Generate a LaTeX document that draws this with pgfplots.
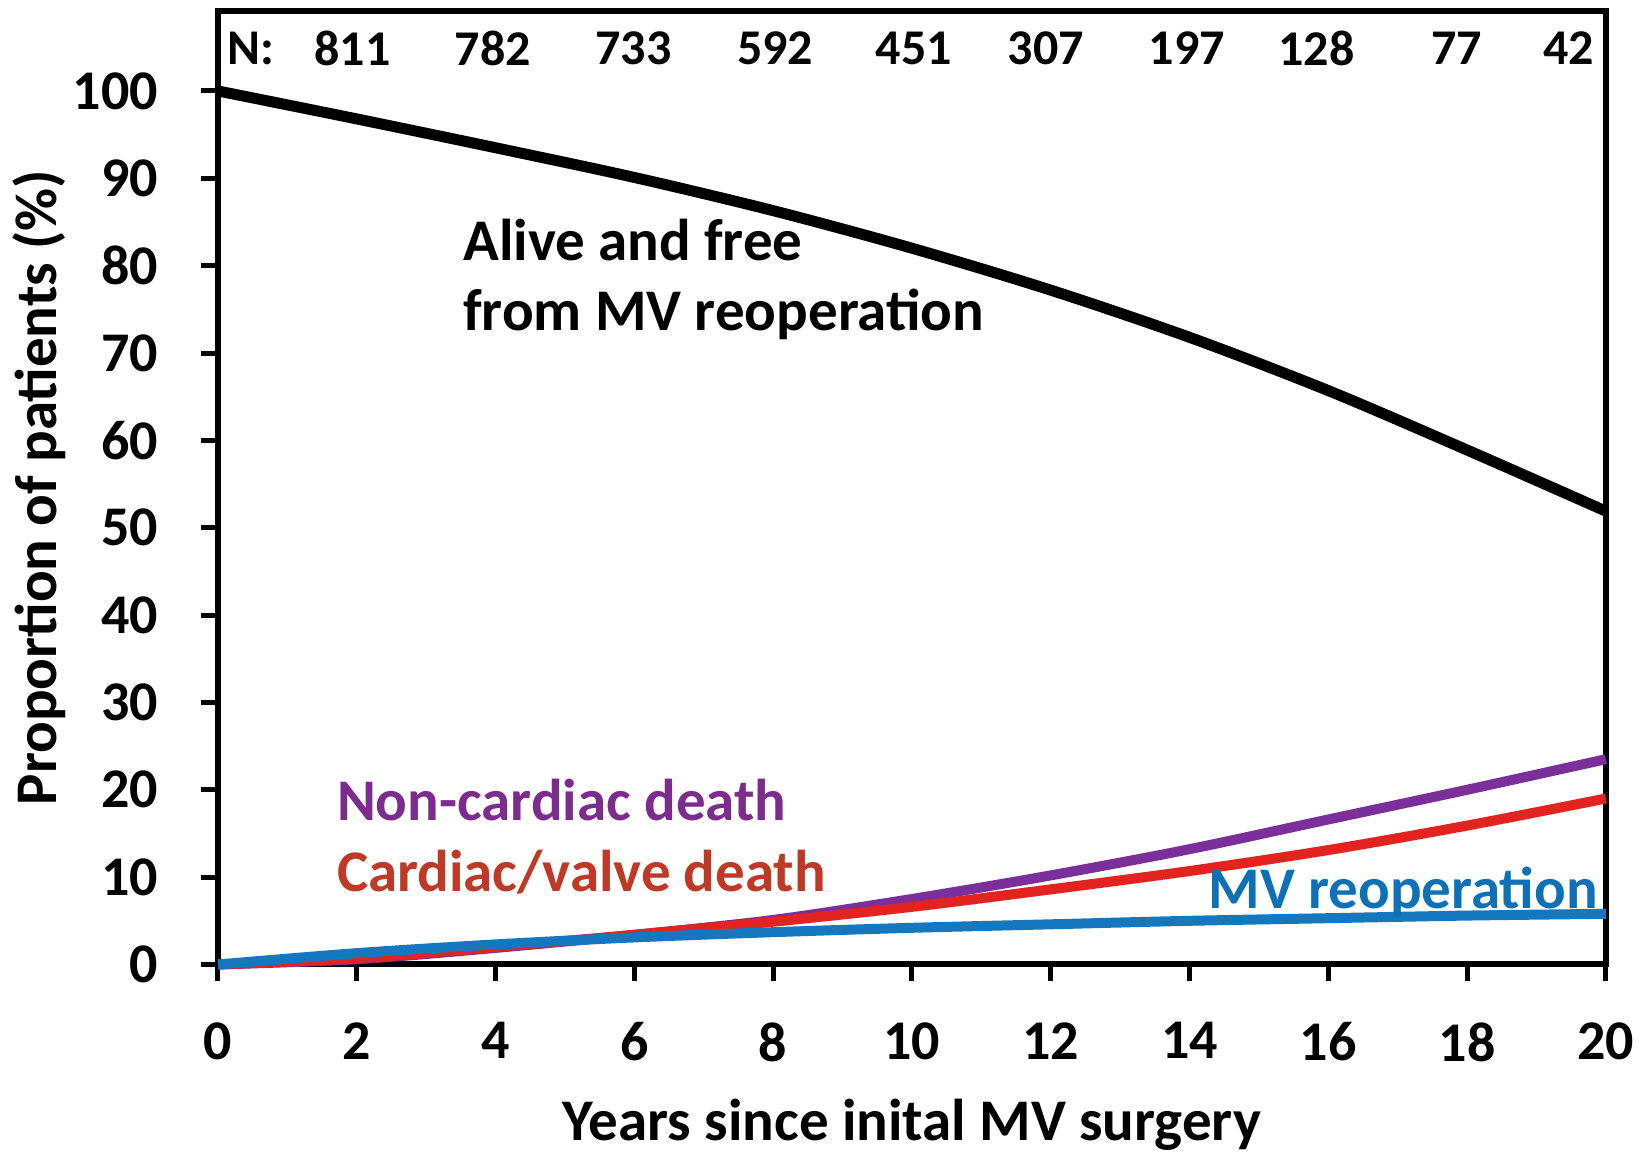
\documentclass[border=0pt]{standalone}
\usepackage{pgfplots}
\pgfplotsset{compat=1.18}
\usepackage{fontspec}
\setmainfont{Carlito}
\definecolor{cpurple}{HTML}{7A2F9A}
\definecolor{cred}{HTML}{E3231F}
\definecolor{cblue}{HTML}{1577BE}
\definecolor{tpurple}{HTML}{7B2C8C}
\definecolor{tred}{HTML}{BE3A26}
\definecolor{tblue}{HTML}{0E70B6}
\begin{document}
\begin{tikzpicture}
\begin{axis}[
  scale only axis,
  width=694pt, height=477pt,
  xmin=0, xmax=20, ymin=0, ymax=109.2,
  xtick={0,2,...,20}, ytick={0,10,...,100},
  tick align=outside, tick pos=left,
  major tick length=8.5pt,
  every tick/.style={line width=2.5pt,black},
  axis line style={line width=3pt},
  /pgf/number format/assume math mode=true,
  ticklabel style={font=\fontsize{28}{31}\selectfont\bfseries},
  xticklabel style={yshift=-17pt},
  yticklabel style={xshift=-18pt},
  xlabel={Years since inital MV surgery},
  ylabel={Proportion of patients (\%)},
  label style={font=\fontsize{29.5}{33}\selectfont\bfseries},
  xlabel style={inner sep=0pt, yshift=-15pt},
  ylabel style={yshift=-3.5pt},
  clip=false,
]
\addplot[black, line width=5.5pt, smooth] coordinates {
(0,100) (2,96.8) (4,93.5) (6,90.1) (8,86.3) (10,82.0) (12,77.2) (14,71.8) (16,65.7) (18,58.9) (20,51.9)};
\addplot[cpurple, line width=5pt, smooth] coordinates {
(0,0) (2,0.6) (4,1.9) (6,3.4) (8,5.1) (10,7.5) (12,10.2) (14,13.2) (16,16.6) (18,20.0) (20,23.5)};
\addplot[cred, line width=5pt, smooth] coordinates {
(0,0) (2,0.7) (4,2.0) (6,3.4) (8,4.9) (10,6.6) (12,8.6) (14,10.7) (16,13.1) (18,15.9) (20,19.0)};
\addplot[cblue, line width=5pt, smooth] coordinates {
(0,0) (2,1.3) (4,2.3) (6,3.1) (8,3.7) (10,4.2) (12,4.6) (14,5.0) (16,5.3) (18,5.6) (20,5.8)};
\path (rel axis cs:0,1) -- ++(0,5.3pt);
\path (rel axis cs:0,0) -- ++(-109pt,0);
\path (rel axis cs:1,0) -- ++(22.6pt,0);
\path (rel axis cs:0,0) -- ++(0,-96.5pt);
\begin{scope}[every node/.style={font=\fontsize{25}{28}\selectfont\bfseries, inner sep=0pt}]
\node[anchor=west] at (axis cs:0.13,104.9) {N:};
\node at (axis cs:1.94,104.9) {811};
\node at (axis cs:3.96,104.9) {782};
\node at (axis cs:5.99,104.9) {733};
\node at (axis cs:8.03,104.9) {592};
\node at (axis cs:10.03,104.9) {451};
\node at (axis cs:11.93,104.9) {307};
\node at (axis cs:13.96,104.9) {197};
\node at (axis cs:15.83,104.9) {128};
\node at (axis cs:17.85,104.9) {77};
\node[anchor=east] at (axis cs:19.84,104.9) {42};
\end{scope}
\begin{scope}[every node/.style={font=\fontsize{29.5}{35}\selectfont\bfseries, inner sep=0pt}]
\node[anchor=west, align=left] at (axis cs:3.53,78.4) {Alive and free\\from MV reoperation};
\node[anchor=west, text=tpurple] at (axis cs:1.71,18.8) {Non-cardiac death};
\node[anchor=west, text=tred] at (axis cs:1.71,10.6) {Cardiac/valve death};
\node[anchor=east, text=tblue] at (axis cs:19.89,8.3) {MV reoperation};
\end{scope}
\end{axis}
\end{tikzpicture}
\end{document}
